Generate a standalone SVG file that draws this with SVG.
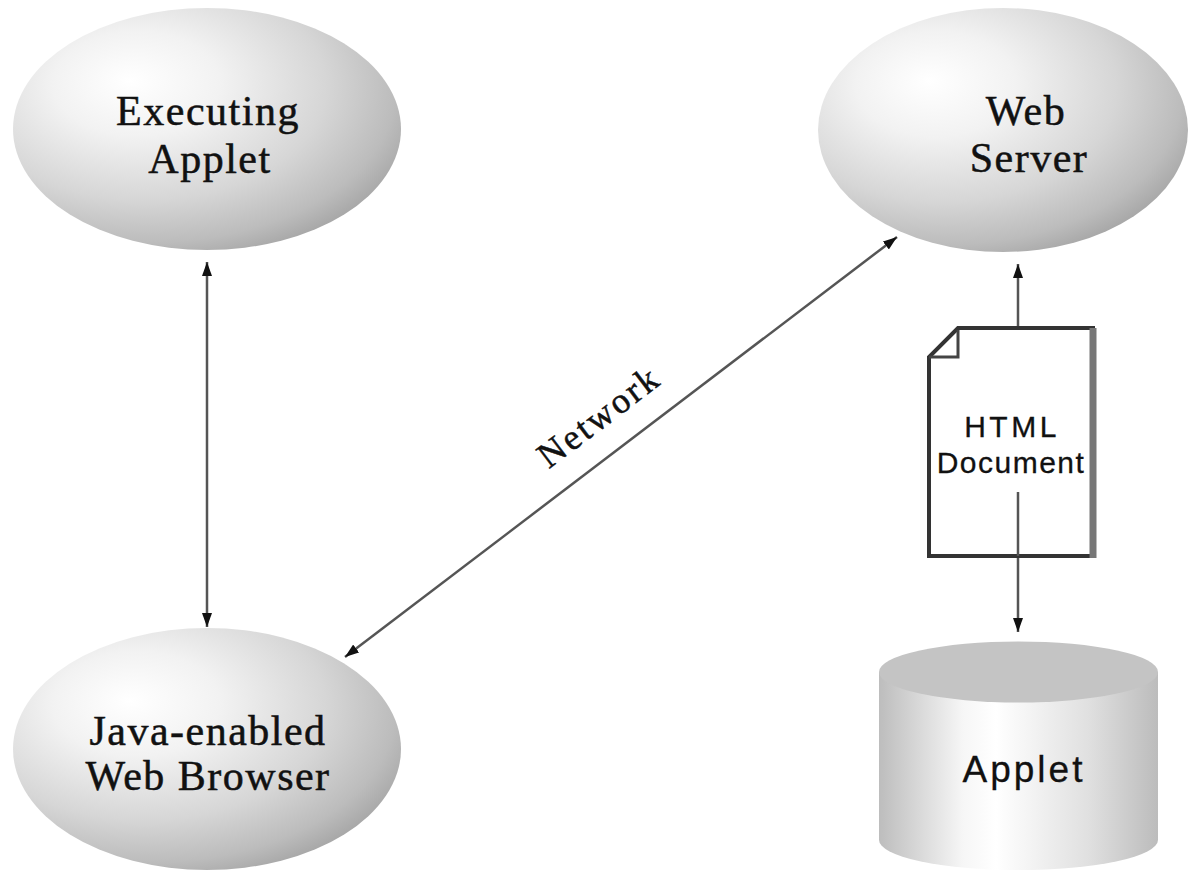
<svg xmlns="http://www.w3.org/2000/svg" width="1190" height="873" viewBox="0 0 1190 873">
<defs>
  <radialGradient id="ballGrad" cx="0.36" cy="0.34" r="0.72" fx="0.3" fy="0.3">
    <stop offset="0" stop-color="#ffffff"/>
    <stop offset="0.3" stop-color="#f2f2f2"/>
    <stop offset="0.65" stop-color="#d6d6d6"/>
    <stop offset="0.88" stop-color="#bcbcbc"/>
    <stop offset="1" stop-color="#a6a6a6"/>
  </radialGradient>
  <linearGradient id="cylGrad" x1="0" y1="0" x2="1" y2="0">
    <stop offset="0" stop-color="#bdbdbd"/>
    <stop offset="0.3" stop-color="#f6f6f6"/>
    <stop offset="0.42" stop-color="#ffffff"/>
    <stop offset="0.75" stop-color="#e0e0e0"/>
    <stop offset="1" stop-color="#bcbcbc"/>
  </linearGradient>
  <marker id="arrow" viewBox="0 0 14 10" refX="14" refY="5" markerWidth="14" markerHeight="10" markerUnits="userSpaceOnUse" orient="auto-start-reverse">
    <path d="M0,0 L14,5 L0,10 z" fill="#111"/>
  </marker>
</defs>
<style>
  .ball { fill: url(#ballGrad); }
  .serif { font-family: "Liberation Serif", "Times New Roman", serif; font-size: 42px; letter-spacing: 1.5px; fill: #111; stroke: #111; stroke-width: 0.5px; text-anchor: middle; }
  .sans { font-family: "Liberation Sans", Arial, sans-serif; fill: #111; stroke: #111; stroke-width: 0.3px; text-anchor: middle; }
  .conn { stroke: #555; stroke-width: 2.5; fill: none; }
</style>
<rect width="1190" height="873" fill="#ffffff"/>

<g id="executing-applet">
  <ellipse class="ball" cx="207" cy="129" rx="194" ry="121"/>
  <text class="serif" x="208" y="125">Executing</text>
  <text class="serif" x="210" y="173">Applet</text>
</g>

<g id="web-server">
  <ellipse class="ball" cx="1003" cy="130" rx="185" ry="122"/>
  <text class="serif" x="1026" y="125">Web</text>
  <text class="serif" x="1029" y="172">Server</text>
</g>

<g id="java-browser">
  <ellipse class="ball" cx="207" cy="749" rx="194" ry="121"/>
  <text class="serif" x="208" y="745">Java-enabled</text>
  <text class="serif" x="208" y="790">Web Browser</text>
</g>

<g id="applet-store">
  <path d="M879,672 L879,840 A139,30 0 0 0 1158,840 L1158,672 Z" fill="url(#cylGrad)"/>
  <ellipse cx="1018.5" cy="672" rx="139.5" ry="30.5" fill="#c4c4c4"/>
  <text class="sans" x="1024" y="782" font-size="37" letter-spacing="3">Applet</text>
</g>

<g id="connectors">
  <line class="conn" x1="207" y1="262" x2="207" y2="627" marker-start="url(#arrow)" marker-end="url(#arrow)"/>
  <line class="conn" x1="345" y1="657" x2="897" y2="237" marker-start="url(#arrow)" marker-end="url(#arrow)"/>
  <text transform="translate(606,426) rotate(-37.2)" font-family="Liberation Serif, Times New Roman, serif" font-size="36" letter-spacing="2.5" text-anchor="middle" fill="#111" stroke="#111" stroke-width="0.5">Network</text>
  <line class="conn" x1="1018" y1="328" x2="1018" y2="264" marker-end="url(#arrow)"/>
  <line class="conn" x1="1018" y1="492" x2="1018" y2="632" marker-end="url(#arrow)"/>
</g>

<g id="html-document">
  <path d="M958,328 L1093,328 L1093,556 L929,556 L929,357 Z" fill="#ffffff" stroke="#333" stroke-width="4" stroke-linejoin="miter"/>
  <line x1="1093" y1="328" x2="1093" y2="558" stroke="#777" stroke-width="7"/>
  <path d="M929,357 L958,357 L958,330" fill="none" stroke="#444" stroke-width="3"/>
  <line x1="1018" y1="492" x2="1018" y2="556" stroke="#555" stroke-width="2.5"/>
  <text class="sans" x="1012" y="437" font-size="30" letter-spacing="3.5">HTML</text>
  <text class="sans" x="1011" y="473" font-size="30" letter-spacing="1.5">Document</text>
</g>
</svg>
